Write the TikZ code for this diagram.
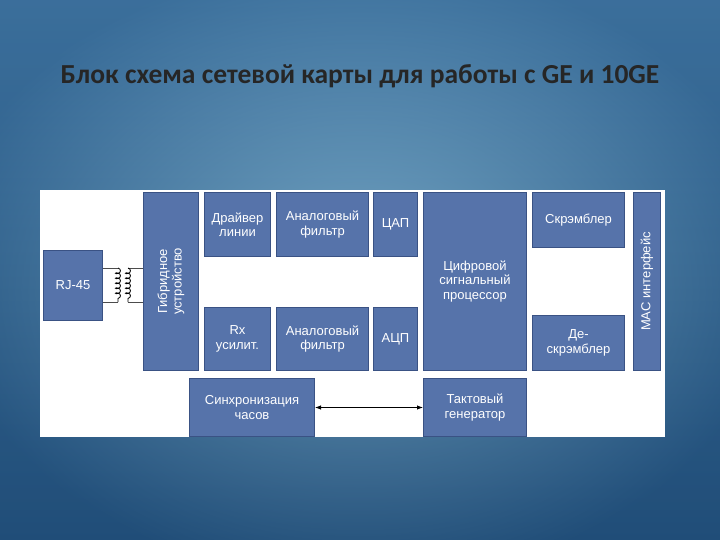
\documentclass[tikz,border=0pt]{standalone}
\usepackage{fontspec}
\setmainfont{Liberation Sans}
\newfontfamily\titlefont{Carlito}
\usetikzlibrary{arrows.meta,decorations.pathmorphing}
\definecolor{boxfill}{HTML}{5673AA}
\definecolor{boxedge}{HTML}{3A5284}
\definecolor{bgtop}{HTML}{4F94BE}
\definecolor{bgmid}{HTML}{69AACB}
\definecolor{bgbot}{HTML}{2C6890}
\tikzset{
  blk/.style={draw=boxedge,line width=1pt,fill=boxfill,text=white,font=\fontsize{13}{14.5}\selectfont,align=center,inner sep=0pt},
}
\newcommand{\bx}[6]{\node[blk,minimum width={(#4-#2)*1pt},minimum height={(#5-#3)*1pt},anchor=north west] (#1) at (#2pt,{-#3pt}) {#6};}
\begin{document}
\begin{tikzpicture}[x=1pt,y=1pt]
\useasboundingbox (0,0) rectangle (720,-540);
\shade[top color=bgtop,middle color=bgmid,bottom color=bgbot] (0,0) rectangle (720,-540);
\shade[inner color=bgmid!0,outer color=black!80!blue,opacity=0.25] (-60,40) rectangle (780,-580);
\node[font=\titlefont\bfseries\fontsize{27.5}{29}\selectfont,text=black!85] (title) at (360,-76) {Блок схема сетевой карты для работы с GE и 10GE};
\fill[white] (40,-190) rectangle (665,-437);
\bx{rj}{43}{250}{102}{320}{RJ-45}
\bx{hyb}{143}{192}{198}{370}{}
\node[rotate=90,text=white,font=\fontsize{13}{14.5}\selectfont,align=center] (hybt) at (hyb.center) {Гибридное\\устройство};
\bx{drv}{204}{192}{270}{256}{Драйвер\\линии}
\bx{af1}{276}{192}{368}{256}{Аналоговый\\фильтр}
\bx{dac}{373}{192}{417}{256}{ЦАП}
\bx{rx}{204}{307}{270}{370}{Rx\\усилит.}
\bx{af2}{276}{307}{368}{370}{Аналоговый\\фильтр}
\bx{adc}{373}{307}{417}{370}{АЦП}
\bx{dsp}{423}{192}{526}{370}{Цифровой\\сигнальный\\процессор}
\bx{scr}{532}{192}{624}{247}{Скрэмблер}
\bx{dscr}{532}{315}{624}{370}{Де-\\скрэмблер}
\bx{mac}{633}{192}{660}{370}{}
\node[rotate=90,text=white,font=\fontsize{13}{14.5}\selectfont] (mact) at (mac.center) {MAC интерфейс};
\bx{sync}{189}{378}{314}{436}{Синхронизация\\часов}
\bx{clk}{423}{378}{526}{436}{Тактовый\\генератор}
\draw[{Latex[length=6pt]}-{Latex[length=6pt]},line width=0.9pt] (sync.east) -- (clk.west);
% transformer
\coordinate (t1) at (118,-268); \coordinate (t2) at (118,-302);
\coordinate (t3) at (128,-268); \coordinate (t4) at (128,-302);
\draw[line width=1pt,black!70] (rj.east |- t1) -- (t1) (rj.east |- t2) -- (t2);
\draw[line width=1pt,black!70] (t3) -- (hyb.west |- t3) (t4) -- (hyb.west |- t4);
\draw[line width=0.8pt,decorate,decoration={coil,aspect=0.6,segment length=5pt,amplitude=2.5pt}] (t1) -- (t2);
\draw[line width=0.8pt,decorate,decoration={coil,aspect=0.6,segment length=5pt,amplitude=2.5pt}] (t3) -- (t4);
\end{tikzpicture}
\end{document}
